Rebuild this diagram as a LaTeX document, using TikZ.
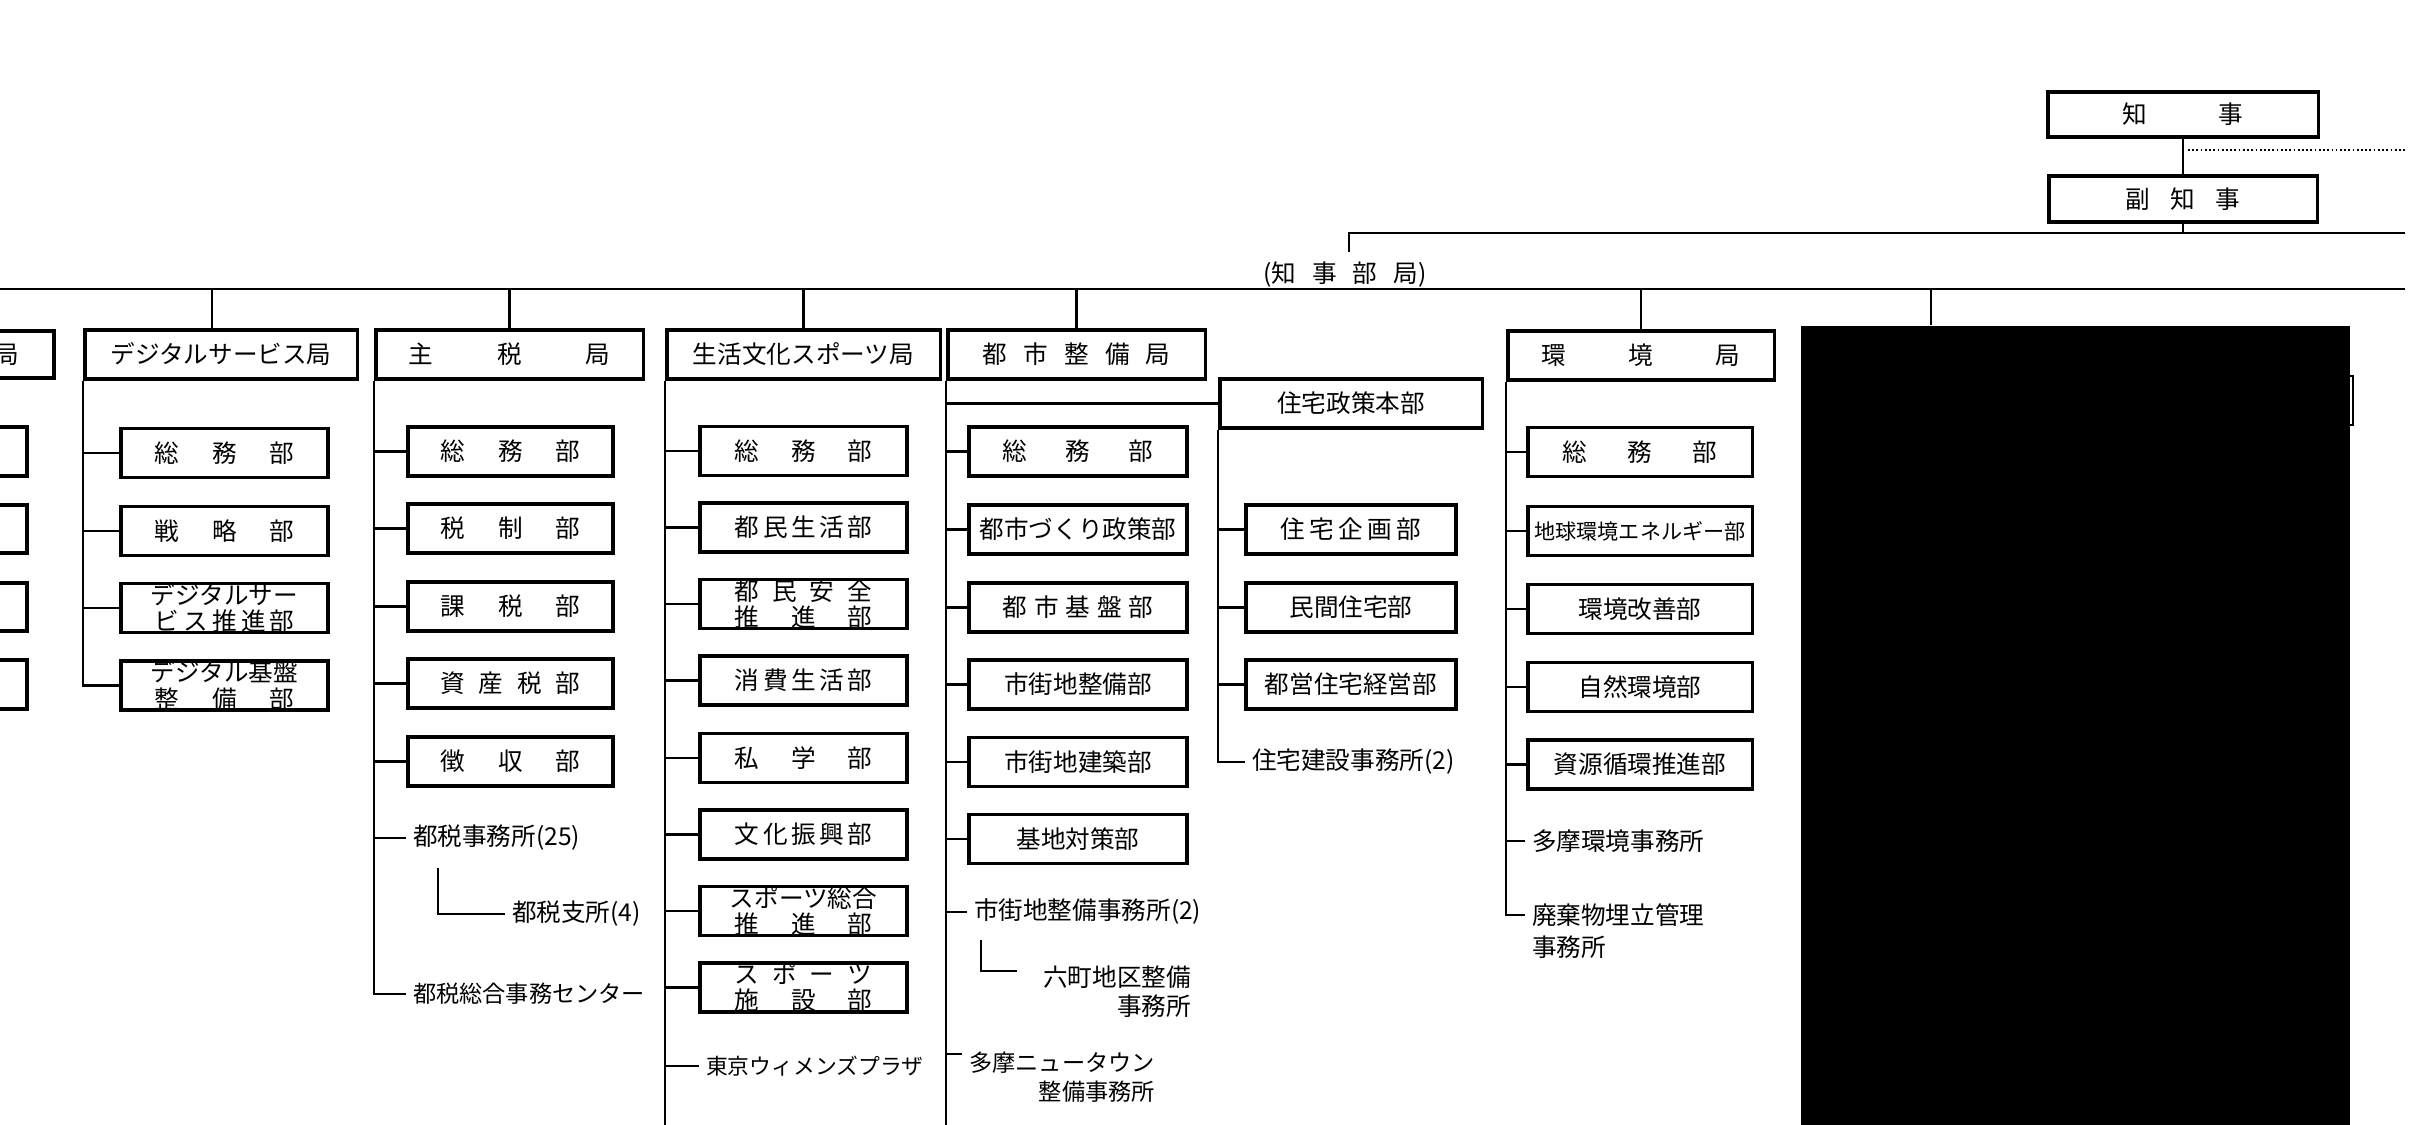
\documentclass[tikz,border=0pt]{standalone}
\usepackage{fontspec}
\setmainfont{Noto Sans CJK JP}
\newcommand{\spr}[2]{\makebox[#1][s]{#2}}
\tikzset{
  kyoku/.style={draw, line width=0.9pt, minimum height=0.49cm, inner sep=0pt},
  bu/.style={draw, line width=0.9pt, minimum height=0.49cm, inner sep=0pt},
  butext/.style={inner sep=0pt, align=center, font=\fontsize{7}{7.4}\selectfont},
  lbl/.style={inner xsep=0.06cm, inner ysep=0pt, align=left},
}
\begin{document}
\begin{tikzpicture}[x=0.01cm, y=-0.01cm, font=\fontsize{7}{8.2}\selectfont, line width=0.6pt]
  \useasboundingbox (0,0) rectangle (2436,1125);
  \clip (0,0) rectangle (2436,1125);

  % Governor, vice governor
  \node[kyoku, minimum width=2.70cm, minimum height=0.45cm] (chiji) at (2183,114.5) {\spr{1.21cm}{知\hfill 事}};
  \node[kyoku, minimum width=2.68cm, minimum height=0.46cm] (fuku) at (2183,199) {\spr{1.15cm}{副\hfill 知\hfill 事}};
  \coordinate (dotend) at (2405,150);
  \coordinate (l2e) at (2405,233);
  \coordinate (bureau) at (1349,252);
  \coordinate (mainw) at (0,289);
  \coordinate (maine) at (2405,289);
  \coordinate (bottom) at (0,1130);
  \draw (chiji) -- (fuku);
  \draw[line width=0.5pt, dash pattern=on 0.5pt off 0.7pt] ([xshift=0.05cm]chiji.south |- dotend) -- (dotend);
  \draw (fuku.south) -- (fuku.south |- l2e);
  \draw (bureau) |- (l2e);
  \node (chijibu) at (1345,275) {\spr{1.63cm}{(知\hfill 事\hfill 部\hfill 局)}};
  \draw[line width=0.7pt] (mainw) -- (maine);

  % cut-off column on the left
  \draw[line width=0.9pt] (-100,331) rectangle (54,378);
  \node[anchor=east, inner sep=0pt] (lk) at (20,355) {局};
  \foreach \ya/\yb in {427/476, 505/553, 583/631, 660/709}
    \draw[line width=0.9pt] (-100,\ya) rectangle (27,\yb);

  % Digital services
  \node[kyoku, minimum width=2.72cm] (dgk) at (221,354.5) {デジタルサービス局};
  \draw ([xshift=-0.09cm]dgk.north) -- ([xshift=-0.09cm]dgk.north |- mainw);
  \foreach \i/\y/\t in {
      1/453/{\spr{1.4cm}{総\hfill 務\hfill 部}},
      2/531/{\spr{1.4cm}{戦\hfill 略\hfill 部}},
      3/608/{デジタルサー\\\spr{1.4cm}{ビ\hfill ス\hfill 推\hfill 進\hfill 部}},
      4/685.5/{デジタル基盤\\\spr{1.4cm}{整\hfill 備\hfill 部}}} {
    \node[bu, minimum width=2.07cm] (dg\i) at (224.5,\y) {};
    \node[butext] (dgt\i) at (dg\i) {\t};
    \draw (dgk.south west) |- (dg\i.west);
  }

  % Taxation
  \node[kyoku, minimum width=2.67cm] (szk) at (509.5,354.5) {\spr{2.01cm}{主\hfill 税\hfill 局}};
  \draw (szk.north) -- (szk.north |- mainw);
  \foreach \i/\y/\t in {
      1/451.5/{総\hfill 務\hfill 部},
      2/528.5/{税\hfill 制\hfill 部},
      3/606.5/{課\hfill 税\hfill 部},
      4/683.5/{資\hfill 産\hfill 税\hfill 部},
      5/761.5/{徴\hfill 収\hfill 部}} {
    \node[bu, minimum width=2.05cm] (sz\i) at (510.5,\y) {};
    \node[butext] (szt\i) at (sz\i) {\spr{1.4cm}{\t}};
    \draw (szk.south west) |- (sz\i.west);
  }
  \node[lbl, anchor=west] (szl1) at (406,838) {都税事務所(25)};
  \node[lbl, anchor=west] (szl2) at (505,914) {都税支所(4)};
  \node[lbl, anchor=west, font=\fontsize{6.6}{8}\selectfont] (szl3) at (406,994) {都税総合事務センター};
  \coordinate (szs) at (438,868);
  \draw (szk.south west) |- (szl1.west);
  \draw (szs) |- (szl2.west);
  \draw (szk.south west) |- (szl3.west);

  % Lifestyle, culture and sports
  \node[kyoku, minimum width=2.73cm] (sbk) at (803.5,354.5) {生活文化スポーツ局};
  \draw (sbk.north) -- (sbk.north |- mainw);
  \draw (sbk.south west) -- (sbk.south west |- bottom);
  \foreach \i/\y/\t in {
      1/451/{\spr{1.37cm}{総\hfill 務\hfill 部}},
      2/527.5/{\spr{1.37cm}{都\hfill 民\hfill 生\hfill 活\hfill 部}},
      3/604/{\spr{1.37cm}{都\hfill 民\hfill 安\hfill 全}\\\spr{1.37cm}{推\hfill 進\hfill 部}},
      4/680.5/{\spr{1.37cm}{消\hfill 費\hfill 生\hfill 活\hfill 部}},
      5/758/{\spr{1.37cm}{私\hfill 学\hfill 部}},
      6/834.5/{\spr{1.37cm}{文\hfill 化\hfill 振\hfill 興\hfill 部}},
      7/911/{スポーツ総合\\\spr{1.37cm}{推\hfill 進\hfill 部}},
      8/987.5/{\spr{1.37cm}{ス\hfill ポ\hfill ー\hfill ツ}\\\spr{1.37cm}{施\hfill 設\hfill 部}}} {
    \node[bu, minimum width=2.07cm] (sb\i) at (803.5,\y) {};
    \node[butext] (sbt\i) at (sb\i) {\t};
    \draw (sbk.south west |- sb\i.west) -- (sb\i.west);
  }
  \node[lbl, anchor=west, font=\fontsize{6.2}{8}\selectfont] (sbl1) at (699,1066) {東京ウィメンズプラザ};
  \draw (sbk.south west |- sbl1.west) -- (sbl1.west);

  % Urban development
  \node[kyoku, minimum width=2.57cm] (tsk) at (1076.5,354.5) {\spr{1.88cm}{都\hfill 市\hfill 整\hfill 備\hfill 局}};
  \draw (tsk.north) -- (tsk.north |- mainw);
  \draw (tsk.south west) -- (tsk.south west |- bottom);
  \foreach \i/\y/\t in {
      1/451.5/{\spr{1.5cm}{総\hfill 務\hfill 部}},
      2/529.5/{都市づくり政策部},
      3/607.5/{\spr{1.5cm}{都\hfill 市\hfill 基\hfill 盤\hfill 部}},
      4/684.5/{市街地整備部},
      5/762/{市街地建築部},
      6/839/{基地対策部}} {
    \node[bu, minimum width=2.18cm] (ts\i) at (1078,\y) {};
    \node[butext] (tst\i) at (ts\i) {\t};
    \draw (tsk.south west |- ts\i.west) -- (ts\i.west);
  }
  \node[lbl, anchor=west] (tsl1) at (967,912) {市街地整備事務所(2)};
  \draw (tsk.south west |- tsl1.west) -- (tsl1.west);
  \node[lbl, anchor=east, align=right] (tsl2) at (1198,991.5) {六町地区整備\\事務所};
  \coordinate (tss) at (981,940);
  \coordinate (tsc) at (1017,971);
  \draw (tss) |- (tsc);
  \node[lbl, anchor=east, align=right, font=\fontsize{6.6}{8.2}\selectfont] (tsl3) at (1162,1077.5) {多摩ニュータウン\\整備事務所};
  \coordinate (tsm) at ([yshift=0.235cm]tsl3.west);
  \draw (tsk.south west |- tsm) -- (tsm);

  % Housing policy headquarters
  \node[kyoku, minimum width=2.62cm] (jsk) at (1351,403.5) {住宅政策本部};
  \draw (tsk.south west |- jsk.west) -- (jsk.west);
  \foreach \i/\y/\t in {
      1/529.5/{\spr{1.41cm}{住\hfill 宅\hfill 企\hfill 画\hfill 部}},
      2/607.5/{民間住宅部},
      3/684.5/{都営住宅経営部}} {
    \node[bu, minimum width=2.10cm] (jt\i) at (1351,\y) {};
    \node[butext] (jtt\i) at (jt\i) {\t};
    \draw (jsk.south west) |- (jt\i.west);
  }
  \node[lbl, anchor=west] (jtl1) at (1245,762) {住宅建設事務所(2)};
  \draw (jsk.south west) |- (jtl1.west);

  % Environment
  \node[kyoku, minimum width=2.66cm] (kkk) at (1641,355.5) {\spr{1.99cm}{環\hfill 境\hfill 局}};
  \draw (kkk.north) -- (kkk.north |- mainw);
  \foreach \i/\y/\t in {
      1/452/{\spr{1.54cm}{総\hfill 務\hfill 部}},
      2/531/{\fontsize{6}{6}\selectfont 地球環境エネルギー部},
      3/609/{環境改善部},
      4/687/{自然環境部},
      5/764.5/{資源循環推進部}} {
    \node[bu, minimum width=2.24cm] (kk\i) at (1640,\y) {};
    \node[butext] (kkt\i) at (kk\i) {\t};
    \draw (kkk.south west) |- (kk\i.west);
  }
  \node[lbl, anchor=west] (kkl1) at (1525,841) {多摩環境事務所};
  \draw (kkk.south west |- kkl1.west) -- (kkl1.west);
  \node[lbl, anchor=west, font=\fontsize{7}{9}\selectfont] (kkl2) at (1525,931) {廃棄物埋立管理\\事務所};
  \coordinate (kkc) at ([yshift=0.16cm]kkl2.west);
  \draw (kkk.south west) |- (kkc);

  % masked part
  \draw (2340,376) rectangle (2353,425);
  \node[fill=black, anchor=north west, inner sep=0pt, minimum width=5.49cm, minimum height=8.2cm] (masked) at (1800,325) {};
  \coordinate (mk) at (1931,289);
  \draw (mk) -- (mk |- masked.north);
\end{tikzpicture}
\end{document}
